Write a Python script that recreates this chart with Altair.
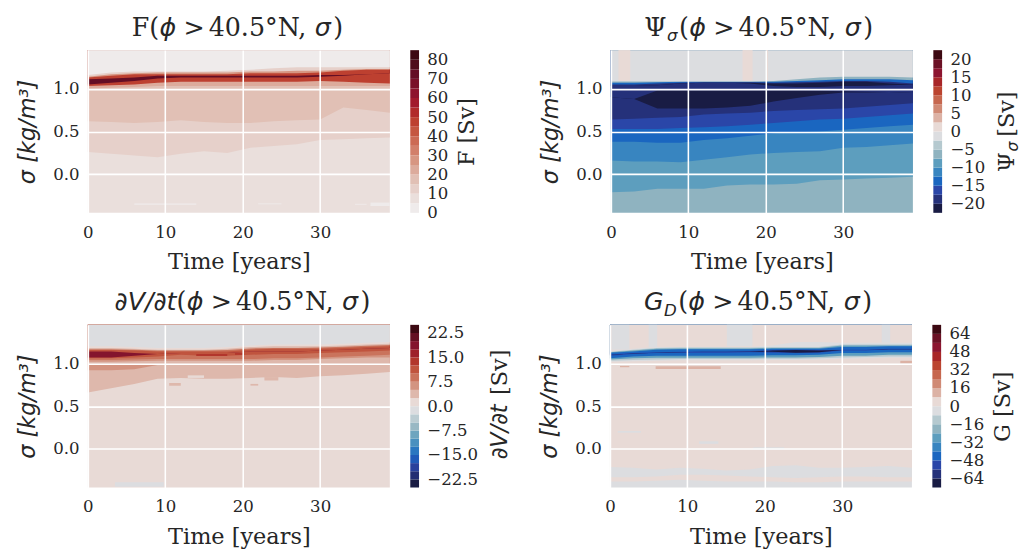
import altair as alt
import pandas as pd

# ---------------- shared coordinates ----------------
T = [0, 3, 6, 9, 12, 15, 18, 21, 24, 27, 30, 33, 36, 39]
SIGMA_TOP = 1.45
SIGMA_BOTTOM = -0.45
X_TICKS = [0, 10, 20, 30]
Y_TICKS = [0.0, 0.5, 1.0]

# ---------------- colour anchors ----------------
POS9 = ["#e8dad6", "#dcb2a5", "#d08a75", "#c6674f", "#bb4430",
        "#a82628", "#8c1530", "#6b1125", "#3c0912"]
NEG9 = ["#dcdde0", "#b5c9cf", "#8fb3c0", "#5d9ebe", "#3885c0",
        "#1a66c0", "#2a46a8", "#25317a", "#191c44"]
F17 = ["#efebeb", "#eadfdc", "#e6d0ca", "#e1c0b5", "#dcab9c", "#d79682",
       "#d27f6a", "#cc6a54", "#c55640", "#bd4030", "#b12a2a", "#a21a2c",
       "#8e142d", "#7a1029", "#640e25", "#4f0c1c", "#3c0912"]

# ---------------- panel 1 : F ----------------
F_LEVELS = [0, 5, 10, 15, 20, 25, 30, 35, 40, 45, 50, 55, 60, 65, 70, 75, 80, 85]
F_TICKS = [0, 10, 20, 30, 40, 50, 60, 70, 80]
F_BAND_VALUES = [2.5, 12.5, 27.5, 47.5, 72.5, 47.5, 22.5, 17.5, 12.5, 7.5]
F_BAND_EDGES = [
    [1.16, 1.19, 1.20, 1.20, 1.20, 1.20, 1.21, 1.22, 1.24, 1.25, 1.25, 1.25, 1.25, 1.25],
    [1.14, 1.17, 1.18, 1.19, 1.19, 1.19, 1.19, 1.20, 1.20, 1.21, 1.21, 1.22, 1.23, 1.23],
    [1.13, 1.15, 1.17, 1.17, 1.17, 1.17, 1.17, 1.18, 1.18, 1.18, 1.19, 1.21, 1.22, 1.22],
    [1.11, 1.12, 1.13, 1.15, 1.15, 1.15, 1.15, 1.15, 1.15, 1.15, 1.16, 1.16, 1.17, 1.18],
    [1.05, 1.07, 1.09, 1.12, 1.13, 1.13, 1.13, 1.13, 1.13, 1.13, 1.14, 1.15, 1.17, 1.18],
    [1.03, 1.04, 1.05, 1.07, 1.08, 1.08, 1.08, 1.08, 1.08, 1.08, 1.09, 1.08, 1.07, 1.06],
    [1.00, 1.01, 1.02, 1.03, 1.03, 1.03, 1.03, 1.03, 1.03, 1.03, 1.03, 1.03, 1.03, 1.03],
    [0.62, 0.61, 0.60, 0.61, 0.63, 0.61, 0.60, 0.60, 0.62, 0.63, 0.64, 0.78, 0.75, 0.72],
    [0.26, 0.24, 0.22, 0.20, 0.24, 0.27, 0.25, 0.31, 0.33, 0.35, 0.40, 0.41, 0.42, 0.43],
]
F_PATCHES = [  # (t0, t1, sigma0, sigma1, value)
    (6.0, 14.0, -0.355, -0.34, 2.5),
    (22.0, 25.0, -0.35, -0.34, 2.5),
    (34.5, 36.0, -0.355, -0.345, 2.5),
    (36.5, 39.0, -0.37, -0.33, 2.5),
]

# ---------------- panel 2 : Psi_sigma ----------------
P_LEVELS = [-22.5, -20, -17.5, -15, -12.5, -10, -7.5, -5, -2.5, 0,
            2.5, 5, 7.5, 10, 12.5, 15, 17.5, 20, 22.5]
P_TICKS = [-20, -15, -10, -5, 0, 5, 10, 15, 20]
P_BAND_VALUES = [-1.25, -6.25, -13.75, -18.75, -21.25, -18.75, -21.25,
                 -18.75, -16.25, -13.75, -11.25, -8.75, -6.25]
P_BAND_EDGES = [
    [1.085, 1.085, 1.085, 1.085, 1.085, 1.085, 1.085, 1.09, 1.11, 1.13, 1.14, 1.14, 1.14, 1.13],
    [1.07, 1.07, 1.075, 1.08, 1.08, 1.08, 1.08, 1.08, 1.09, 1.10, 1.11, 1.11, 1.11, 1.10],
    [1.05, 1.05, 1.06, 1.07, 1.075, 1.075, 1.075, 1.07, 1.075, 1.08, 1.09, 1.09, 1.08, 1.06],
    [1.03, 1.03, 1.04, 1.06, 1.07, 1.07, 1.07, 1.06, 1.06, 1.07, 1.08, 1.08, 1.06, 1.05],
    [1.03, 1.03, 1.04, 1.06, 1.07, 1.07, 1.06, 1.03, 1.02, 1.02, 1.03, 1.03, 1.04, 1.05],
    [0.90, 0.88, 0.98, 0.98, 0.98, 0.98, 0.98, 0.98, 0.98, 0.975, 0.97, 0.965, 0.96, 0.95],
    [0.90, 0.88, 0.77, 0.77, 0.77, 0.78, 0.80, 0.85, 0.89, 0.93, 0.955, 0.955, 0.96, 0.95],
    [0.64, 0.65, 0.66, 0.67, 0.70, 0.71, 0.72, 0.74, 0.75, 0.76, 0.77, 0.79, 0.81, 0.83],
    [0.53, 0.53, 0.53, 0.54, 0.55, 0.56, 0.58, 0.60, 0.62, 0.64, 0.65, 0.67, 0.69, 0.71],
    [0.38, 0.38, 0.37, 0.37, 0.40, 0.42, 0.45, 0.48, 0.49, 0.50, 0.52, 0.54, 0.56, 0.58],
    [0.16, 0.15, 0.15, 0.14, 0.17, 0.20, 0.23, 0.25, 0.26, 0.27, 0.31, 0.32, 0.34, 0.36],
    [-0.21, -0.20, -0.17, -0.17, -0.17, -0.13, -0.12, -0.12, -0.11, -0.07, -0.06, -0.05, -0.04, -0.03],
]
P_PATCHES = [
    (0.97, 2.5, 1.09, 1.45, 1.25),
    (17.0, 18.3, 1.09, 1.45, 1.25),
    (20.05, 20.3, 1.09, 1.45, 1.25),
]

# ---------------- panel 3 : dV/dt ----------------
D_LEVELS = [-25, -22.5, -20, -17.5, -15, -12.5, -10, -7.5, -5, -2.5, 0,
            2.5, 5, 7.5, 10, 12.5, 15, 17.5, 20, 22.5, 25]
D_TICKS = [-22.5, -15, -7.5, 0, 7.5, 15, 22.5]
D_BAND_VALUES = [-1.25, 1.25, 3.75, 8.75, 11.25, 18.75, 11.25, 8.75,
                 6.25, 3.75, 6.25, 3.75, 1.25]
D_BAND_EDGES = [
    [1.20, 1.20, 1.19, 1.18, 1.18, 1.18, 1.19, 1.21, 1.22, 1.22, 1.22, 1.23, 1.24, 1.25],
    [1.18, 1.18, 1.17, 1.16, 1.16, 1.16, 1.17, 1.19, 1.20, 1.20, 1.20, 1.21, 1.22, 1.23],
    [1.165, 1.165, 1.16, 1.15, 1.15, 1.15, 1.155, 1.175, 1.18, 1.18, 1.185, 1.195, 1.205, 1.215],
    [1.155, 1.155, 1.15, 1.14, 1.14, 1.14, 1.14, 1.16, 1.17, 1.17, 1.17, 1.18, 1.19, 1.20],
    [1.14, 1.14, 1.12, 1.11, 1.12, 1.12, 1.12, 1.14, 1.14, 1.14, 1.15, 1.16, 1.17, 1.18],
    [1.07, 1.07, 1.09, 1.11, 1.12, 1.12, 1.12, 1.14, 1.14, 1.14, 1.15, 1.16, 1.17, 1.18],
    [1.06, 1.06, 1.07, 1.08, 1.10, 1.09, 1.09, 1.10, 1.11, 1.11, 1.12, 1.13, 1.14, 1.15],
    [1.04, 1.04, 1.045, 1.05, 1.05, 1.05, 1.05, 1.05, 1.06, 1.06, 1.07, 1.08, 1.09, 1.10],
    [1.02, 1.02, 1.025, 1.03, 1.03, 1.03, 1.03, 1.03, 1.04, 1.04, 1.05, 1.06, 1.07, 1.07],
    [0.98, 0.98, 0.98, 0.98, 0.98, 0.98, 0.98, 0.98, 0.98, 0.98, 0.98, 0.98, 0.98, 0.98],
    [0.92, 0.92, 0.93, 0.98, 0.98, 0.98, 0.98, 0.98, 0.98, 0.98, 0.98, 0.98, 0.98, 0.98],
    [0.66, 0.71, 0.76, 0.82, 0.83, 0.82, 0.82, 0.83, 0.84, 0.83, 0.85, 0.86, 0.88, 0.90],
]
D_PATCHES = [
    (14.0, 18.0, 1.085, 1.11, 13.75),
    (19.0, 20.0, 1.10, 1.12, 13.75),
    (12.9, 15.0, 0.83, 0.86, 1.25),
    (10.5, 12.0, 0.74, 0.77, 3.75),
    (22.8, 24.6, 0.80, 0.84, 3.75),
    (21.0, 22.0, 0.74, 0.76, 3.75),
    (3.5, 9.8, -0.44, -0.39, -1.25),
]

# ---------------- panel 4 : G_D ----------------
G_LEVELS = [-72, -64, -56, -48, -40, -32, -24, -16, -8, 0,
            8, 16, 24, 32, 40, 48, 56, 64, 72]
G_TICKS = [-64, -48, -32, -16, 0, 16, 32, 48, 64]
G_BAND_VALUES = [4, -4, -12, -28, -44, -52, -68, -52, -44, -28, -12, -4, 4, -4, 4, -4]
G_BAND_EDGES = [
    [1.14, 1.17, 1.19, 1.19, 1.19, 1.19, 1.19, 1.21, 1.25, 1.25, 1.24, 1.24, 1.24, 1.24],
    [1.135, 1.16, 1.18, 1.185, 1.185, 1.185, 1.185, 1.19, 1.19, 1.19, 1.22, 1.22, 1.22, 1.22],
    [1.13, 1.15, 1.17, 1.175, 1.175, 1.175, 1.175, 1.18, 1.18, 1.18, 1.21, 1.21, 1.21, 1.21],
    [1.125, 1.14, 1.16, 1.165, 1.165, 1.165, 1.165, 1.17, 1.17, 1.17, 1.19, 1.19, 1.20, 1.20],
    [1.105, 1.12, 1.13, 1.135, 1.14, 1.14, 1.145, 1.155, 1.16, 1.155, 1.16, 1.16, 1.17, 1.17],
    [1.10, 1.115, 1.125, 1.13, 1.135, 1.135, 1.14, 1.15, 1.155, 1.15, 1.155, 1.155, 1.165, 1.165],
    [1.10, 1.115, 1.125, 1.13, 1.135, 1.135, 1.14, 1.135, 1.125, 1.13, 1.155, 1.155, 1.165, 1.165],
    [1.09, 1.11, 1.12, 1.125, 1.125, 1.125, 1.13, 1.125, 1.12, 1.125, 1.15, 1.15, 1.165, 1.165],
    [1.06, 1.08, 1.09, 1.09, 1.09, 1.09, 1.09, 1.095, 1.095, 1.10, 1.12, 1.12, 1.13, 1.13],
    [1.045, 1.06, 1.065, 1.065, 1.065, 1.065, 1.065, 1.07, 1.07, 1.075, 1.09, 1.09, 1.10, 1.10],
    [1.03, 1.04, 1.045, 1.05, 1.05, 1.05, 1.05, 1.055, 1.055, 1.06, 1.07, 1.075, 1.08, 1.08],
    [1.02, 1.025, 1.03, 1.035, 1.035, 1.035, 1.035, 1.04, 1.04, 1.045, 1.055, 1.06, 1.065, 1.065],
    [-0.21, -0.22, -0.24, -0.22, -0.23, -0.25, -0.24, -0.20, -0.19, -0.22, -0.22, -0.21, -0.20, -0.22],
    [-0.33, -0.33, -0.32, -0.30, -0.30, -0.31, -0.32, -0.33, -0.34, -0.33, -0.32, -0.32, -0.33, -0.33],
    [-0.38, -0.38, -0.37, -0.36, -0.37, -0.38, -0.38, -0.38, -0.39, -0.39, -0.38, -0.38, -0.38, -0.38],
]
G_PATCHES = [
    (0.2, 2.5, 1.16, 1.45, -4),
    (5.0, 6.1, 1.19, 1.45, -4),
    (15.1, 18.4, 1.20, 1.45, -4),
    (35.1, 36.2, 1.24, 1.45, -4),
    (1.3, 2.5, 0.955, 0.97, 12),
    (5.9, 14.3, 0.935, 0.965, 12),
    (37.5, 39.0, 1.0, 1.03, 12),
    (18.5, 22.5, -0.01, 0.02, -4),
    (1.0, 4.0, 0.19, 0.21, -4),
    (11.5, 14.0, 0.06, 0.09, -4),
]

# ---------------- helpers (styling only) ----------------
def _rgb(h):
    return [int(h[i:i + 2], 16) for i in (1, 3, 5)]


def resample(colors, m):
    n = len(colors)
    out = []
    for j in range(m):
        q = (j + 0.5) / m * n - 0.5
        q = min(max(q, 0.0), n - 1.0)
        i = int(q)
        f = q - i
        if i >= n - 1:
            out.append(colors[-1])
            continue
        a, b = _rgb(colors[i]), _rgb(colors[i + 1])
        c = [round(a[k] + (b[k] - a[k]) * f) for k in range(3)]
        out.append("#%02x%02x%02x" % tuple(c))
    return out


def diverging(nhalf):
    neg = resample(NEG9, nhalf)
    pos = resample(POS9, nhalf)
    return list(reversed(neg)) + pos


TEXT = "#262626"
SERIF = "DejaVu Serif"
SANS = "DejaVu Sans"
W, H, CBW = 310, 167, 9
LABEL_SIZE = 17
TITLE_SIZE = 23
HEAD_SIZE = 26
SUB_SIZE = 17
ONE = pd.DataFrame({"k": [0]})


def txt(text, font, style, size, x, y, align="left", baseline="alphabetic", angle=0):
    return alt.Chart(ONE).mark_text(
        text=text, font=font, fontStyle=style, fontSize=size, align=align,
        baseline=baseline, angle=angle, color=TEXT
    ).encode(x=alt.value(x), y=alt.value(y))


def title_marks(prefix, pfont, pstyle, sub, join_x, sub_x):
    """Composite panel title (mixed serif / math italic) above the plot area."""
    yb = -15
    marks = [
        txt(prefix, pfont, pstyle, HEAD_SIZE, sub_x if sub else join_x, yb, align="right"),
        txt("(", SERIF, "normal", HEAD_SIZE, join_x, yb),
        txt("ϕ", SANS, "italic", HEAD_SIZE, join_x + 10.5, yb),
        txt(">", SANS, "normal", HEAD_SIZE, join_x + 46, yb, align="center"),
        txt("40.5°N,", SERIF, "normal", HEAD_SIZE, join_x + 61, yb),
        txt("σ", SANS, "italic", HEAD_SIZE, join_x + 170, yb),
        txt(")", SERIF, "normal", HEAD_SIZE, join_x + 189, yb),
    ]
    if sub:
        marks.append(txt(sub, SANS, "italic", SUB_SIZE, sub_x + 0.5, yb + 6))
    return marks


def heat(values, edges, patches, levels, colors, tmarks):
    cscale = alt.Scale(type="threshold", domain=levels[1:-1], range=colors)
    xs = alt.Scale(domain=[0, 39], nice=False, zero=False)
    ys = alt.Scale(domain=[SIGMA_BOTTOM, SIGMA_TOP], nice=False, zero=False)
    common = dict(grid=True, gridColor="white", gridWidth=1.6, domain=False, ticks=False,
                  zindex=1, labelFlush=False, labelFont=SERIF, labelFontSize=LABEL_SIZE,
                  labelColor=TEXT, titleFontSize=TITLE_SIZE, titleFontWeight="normal",
                  titleColor=TEXT)
    xax = alt.Axis(values=X_TICKS, title="Time [years]", labelPadding=12, titlePadding=11,
                   titleFont=SERIF, **common)
    yax = alt.Axis(values=Y_TICKS, format=".1f", title="σ [kg/m³]", labelPadding=9,
                   titlePadding=14, titleFont=SANS, titleFontStyle="italic", **common)
    layers = []
    n = len(values)
    for k in reversed(range(n)):
        lo = edges[k] if k < n - 1 else [SIGMA_BOTTOM] * len(T)
        df = pd.DataFrame({"t": T, "lo": lo, "hi": [SIGMA_TOP] * len(T),
                           "v": [values[k]] * len(T)})
        layers.append(
            alt.Chart(df).mark_area(interpolate="linear").encode(
                x=alt.X("t:Q", scale=xs, axis=xax),
                y=alt.Y("lo:Q", scale=ys, axis=yax),
                y2="hi:Q",
                color=alt.Color("v:Q", scale=cscale, legend=None),
            )
        )
    pdf = pd.DataFrame(patches, columns=["t0", "t1", "s0", "s1", "v"])
    layers.append(
        alt.Chart(pdf).mark_rect().encode(
            x=alt.X("t0:Q", scale=xs, axis=xax), x2="t1:Q",
            y=alt.Y("s0:Q", scale=ys, axis=yax), y2="s1:Q",
            color=alt.Color("v:Q", scale=cscale, legend=None),
        )
    )
    layers.extend(tmarks)
    return alt.layer(*layers).properties(width=W, height=H)


def cbar(levels, colors, ticks, fmt, title, title_font, title_style, title_pieces):
    cscale = alt.Scale(type="threshold", domain=levels[1:-1], range=colors)
    df = pd.DataFrame({"lo": levels[:-1], "hi": levels[1:]})
    bar = alt.Chart(df).transform_calculate(
        mid="(datum.lo + datum.hi) / 2"
    ).mark_rect().encode(
        x=alt.value(0), x2=alt.value(CBW),
        y=alt.Y("lo:Q", scale=alt.Scale(domain=[levels[0], levels[-1]], nice=False, zero=False),
                axis=alt.Axis(orient="right", values=ticks,
                              labelExpr="replace(format(datum.value, '%s'), '-', '−')" % fmt,
                              title=title, titleAngle=270, titleBaseline="top",
                              grid=False, domain=False, ticks=False, labelPadding=8,
                              titlePadding=8, titleFont=title_font,
                              titleFontStyle=title_style, labelFlush=False,
                              labelFont=SERIF, labelFontSize=LABEL_SIZE, labelColor=TEXT,
                              titleFontSize=TITLE_SIZE, titleFontWeight="normal",
                              titleColor=TEXT)),
        y2="hi:Q",
        color=alt.Color("mid:Q", scale=cscale, legend=None),
    )
    pieces = [txt(p[0], p[1], p[2], p[3], p[4], p[5], align="left", baseline="middle", angle=270)
              for p in title_pieces]
    return alt.layer(bar, *pieces).properties(width=CBW, height=H)


def panel(values, edges, patches, levels, colors, ticks, fmt, tmarks, ctitle, cfont, cstyle,
          cpieces=()):
    return alt.hconcat(
        heat(values, edges, patches, levels, colors, tmarks),
        cbar(levels, colors, ticks, fmt, ctitle, cfont, cstyle, cpieces),
        spacing=21,
    ).resolve_scale(color="independent", x="independent", y="independent")


p1 = panel(F_BAND_VALUES, F_BAND_EDGES, F_PATCHES, F_LEVELS, F17, F_TICKS, "d",
           title_marks("F", SERIF, "normal", "", 63, 63),
           "F [Sv]", SERIF, "normal")
p2 = panel(P_BAND_VALUES, P_BAND_EDGES, P_PATCHES, P_LEVELS, diverging(9), P_TICKS, "d",
           title_marks("Ψ", SERIF, "normal", "σ", 70, 57),
           "", SERIF, "normal",
           [("Ψ", SERIF, "normal", TITLE_SIZE, 76, 125),
            ("σ", SANS, "italic", 16, 82, 104),
            ("[Sv]", SERIF, "normal", TITLE_SIZE, 76, 89)])
p3 = panel(D_BAND_VALUES, D_BAND_EDGES, D_PATCHES, D_LEVELS, diverging(10), D_TICKS, ".1f",
           title_marks("∂V/∂t", SANS, "italic", "", 91, 91),
           "", SANS, "italic",
           [("∂V/∂t", SANS, "italic", TITLE_SIZE, 92, 138),
            ("[Sv]", SERIF, "normal", TITLE_SIZE, 92, 72)])
p4 = panel(G_BAND_VALUES, G_BAND_EDGES, G_PATCHES, G_LEVELS, diverging(9), G_TICKS, "d",
           title_marks("G", SANS, "italic", "D", 70, 55),
           "G [Sv]", SERIF, "normal")

row1 = alt.hconcat(p1, p2, spacing=62).resolve_scale(color="independent", x="independent", y="independent")
row2 = alt.hconcat(p3, p4, spacing=27).resolve_scale(color="independent", x="independent", y="independent")

chart = alt.vconcat(row1, row2, spacing=17).resolve_scale(
    color="independent", x="independent", y="independent"
).properties(
    padding={"left": 8, "top": 0, "right": 0, "bottom": 0}, background="white"
).configure_view(stroke=None)

chart.save("out.html", embed_options={"renderer": "svg", "actions": False})
